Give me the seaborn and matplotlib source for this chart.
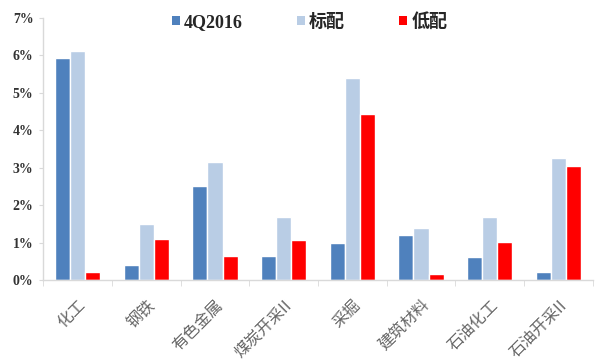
import matplotlib
matplotlib.use("Agg")
import matplotlib.pyplot as plt
import seaborn as sns
import pandas as pd
from matplotlib.ticker import FuncFormatter, MultipleLocator
from matplotlib.patches import Patch

categories = ["化工", "钢铁", "有色金属", "煤炭开采II", "采掘", "建筑材料", "石油化工", "石油开采II"]
series_names = ["4Q2016", "标配", "低配"]
v_4q2016 = [5.93, 0.40, 2.52, 0.63, 0.98, 1.20, 0.62, 0.21]
v_std = [6.12, 1.50, 3.15, 1.69, 5.41, 1.38, 1.68, 3.25]
v_low = [0.21, 1.10, 0.63, 1.07, 4.44, 0.16, 1.03, 3.06]
colors = ["#4F81BD", "#B9CDE5", "#FF0000"]

rows = []
for s, vals in zip(series_names, [v_4q2016, v_std, v_low]):
    for c, v in zip(categories, vals):
        rows.append({"cat": c, "series": s, "val": v})
df = pd.DataFrame(rows)

sns.set_style("white")
plt.rcParams['font.family'] = ['Liberation Serif', 'Noto Sans CJK SC', 'DejaVu Sans']

fig = plt.figure(figsize=(6, 3.6), dpi=100)
ax = fig.add_axes([0.072, 0.222, 0.916, 0.728])
sns.barplot(data=df, x="cat", y="val", hue="series", order=categories,
            hue_order=series_names, palette=colors, width=0.66, gap=0,
            saturation=1, legend=False, ax=ax)

ax.set_ylim(0, 7)
ax.set_xlim(-0.5, len(categories) - 0.5)
ax.yaxis.set_major_locator(MultipleLocator(1))
ax.yaxis.set_major_formatter(FuncFormatter(lambda v, p: f"{int(round(v))}%"))
ax.set_xlabel("")
ax.set_ylabel("")

for side in ["top", "right"]:
    ax.spines[side].set_visible(False)
for side in ["left", "bottom"]:
    ax.spines[side].set_color("#D9D9D9")
    ax.spines[side].set_linewidth(1)

ax.tick_params(axis="y", length=3, color="#D9D9D9", labelsize=10, pad=4, direction="out", left=True)
for t in ax.get_yticklabels():
    t.set_fontweight("bold")
    t.set_color("#333333")

ax.set_xticks(range(len(categories)))
ax.set_xticklabels(categories, rotation=45, ha="right", rotation_mode="anchor",
                   fontsize=11.5, color="#666666",
                   family=['Noto Sans CJK SC', 'DejaVu Sans'])
ax.tick_params(axis="x", length=0, pad=12)
ax.set_xticks([i + 0.5 for i in range(-1, len(categories))], minor=True)
ax.tick_params(axis="x", which="minor", length=4, color="#D9D9D9", bottom=True)

handles = [Patch(facecolor=c, edgecolor="none") for c in colors]
leg = fig.legend(handles, series_names, loc="center", bbox_to_anchor=(0.516, 0.939),
                 ncol=3, frameon=False, handlelength=0.45, handleheight=0.45,
                 handletextpad=0.22, columnspacing=3.0,
                 prop={"family": ['Liberation Serif', 'Noto Sans CJK SC'], "weight": "bold", "size": 13})

fig.savefig("out.png", dpi=100, facecolor="white")
